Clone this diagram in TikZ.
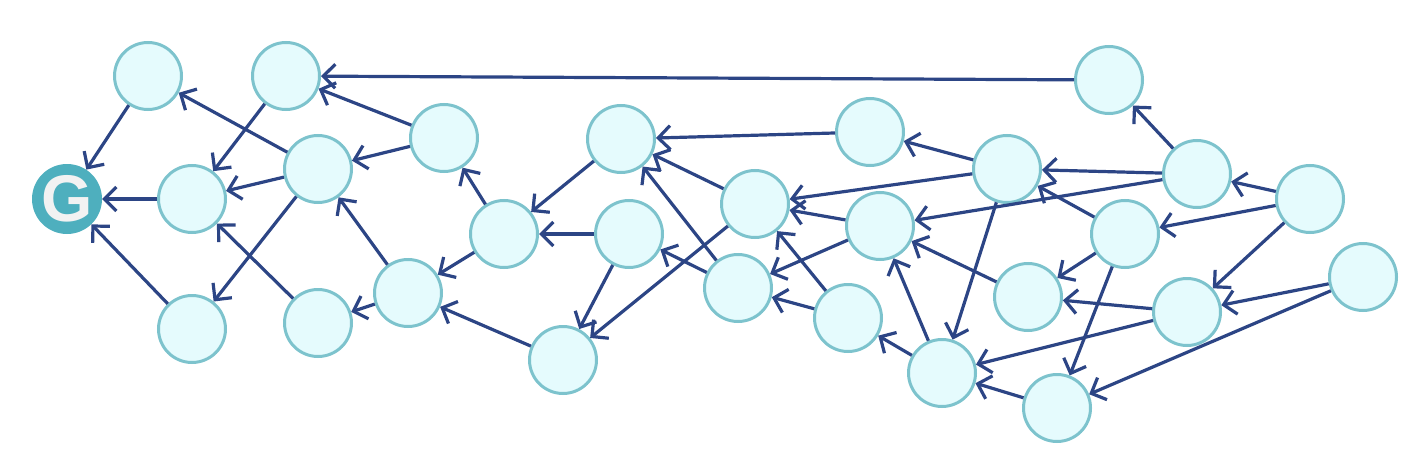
\documentclass[tikz,border=0pt]{standalone}
\usepackage{fontspec}
\setmainfont{Liberation Sans}
\usetikzlibrary{arrows.meta}
\definecolor{ringc}{HTML}{7DC3CD}
\definecolor{fillc}{HTML}{E5FBFD}
\definecolor{edgec}{HTML}{2C4585}
\definecolor{goalc}{HTML}{4EAFBE}
\definecolor{goaltext}{HTML}{F2F2F2}
\tikzset{
  vnode/.style={circle,draw=ringc,fill=fillc,line width=3pt,minimum size=67pt,inner sep=0pt},
  goalnode/.style={circle,fill=goalc,minimum size=70pt,inner sep=0pt,text=goaltext,font=\fontsize{66}{66}\selectfont\bfseries},
  edge/.style={draw=edgec,line width=3.2pt,-{Straight Barb[length=12pt,width=24pt,line width=3.2pt]}}
}
\begin{document}
\begin{tikzpicture}[x=1pt,y=-1pt]
\useasboundingbox (0,0) rectangle (1414,460);
\node[goalnode] (G) at (67,199) {G};
\node[vnode] (n1) at (148,76) {};
\node[vnode] (n2) at (286,76) {};
\node[vnode] (n3) at (192,199) {};
\node[vnode] (n4) at (318,169) {};
\node[vnode] (n5) at (444,138) {};
\node[vnode] (n6) at (192,329) {};
\node[vnode] (n7) at (318,323) {};
\node[vnode] (n8) at (408,293) {};
\node[vnode] (n9) at (504,234) {};
\node[vnode] (n10) at (621,139) {};
\node[vnode] (n11) at (629,234) {};
\node[vnode] (n12) at (563,360) {};
\node[vnode] (n13) at (755,204) {};
\node[vnode] (n14) at (738,288) {};
\node[vnode] (n15) at (870,132) {};
\node[vnode] (n16) at (880,226) {};
\node[vnode] (n17) at (848,318) {};
\node[vnode] (n18) at (1007,169) {};
\node[vnode] (n19) at (1109,80) {};
\node[vnode] (n20) at (1197,174) {};
\node[vnode] (n21) at (1125,234) {};
\node[vnode] (n22) at (1028,297) {};
\node[vnode] (n23) at (1310,199) {};
\node[vnode] (n24) at (1187,312) {};
\node[vnode] (n25) at (1363,277) {};
\node[vnode] (n26) at (942,373) {};
\node[vnode] (n27) at (1057,408) {};
\foreach \a/\b in {n1/G,n3/G,n6/G,n2/n3,n4/n1,n4/n3,n4/n6,n7/n3,n5/n2,n5/n4,n8/n4,n8/n7,
  n9/n5,n9/n8,n10/n9,n11/n9,n11/n12,n12/n8,n19/n2,n15/n10,n13/n10,n14/n10,n13/n12,n14/n11,
  n18/n15,n18/n13,n16/n13,n17/n13,n16/n14,n17/n14,n26/n17,n26/n16,n18/n26,n20/n19,n20/n18,
  n20/n16,n21/n18,n22/n16,n21/n22,n24/n22,n21/n27,n24/n26,n27/n26,n25/n27,n23/n20,n23/n21,
  n23/n24,n25/n24}
  \draw[edge] (\a) -- (\b);
\end{tikzpicture}
\end{document}
